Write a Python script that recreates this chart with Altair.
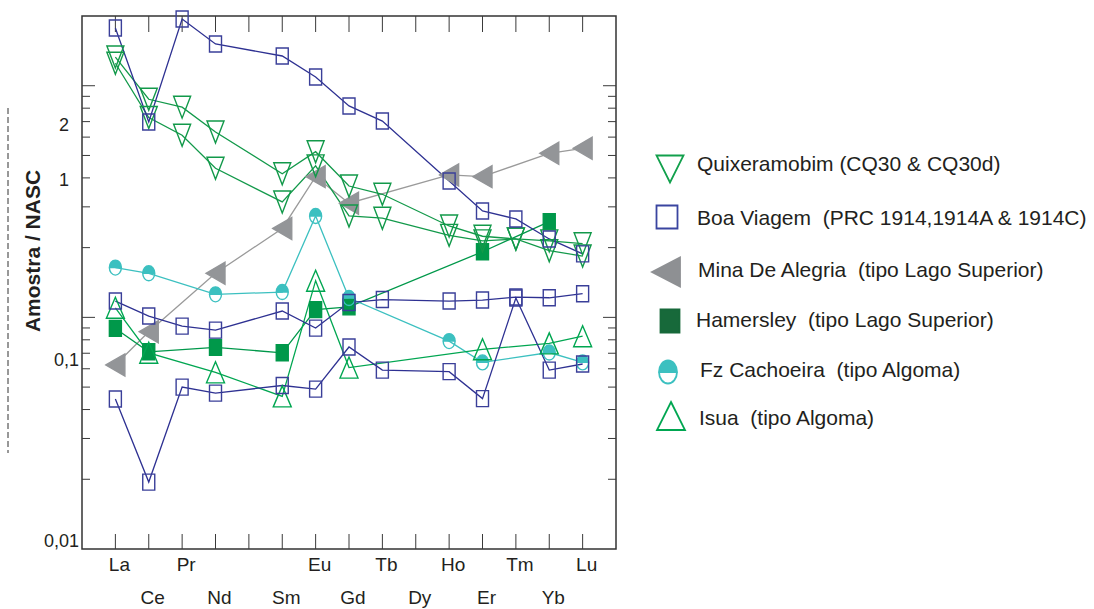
import altair as alt
import pandas as pd

# ---------------- data ----------------
ELEMENTS = ["La", "Ce", "Pr", "Nd", "Pm", "Sm", "Eu", "Gd", "Tb", "Dy", "Ho", "Er", "Tm", "Yb", "Lu"]
N = None

QUIX_CQ30 = [1.33, 0.874, 0.808, 0.631, N, 0.417, 0.519, 0.369, 0.340, N, 0.248, 0.224, 0.218, 0.214, 0.208]
QUIX_CQ30D = [1.25, 0.729, 0.611, 0.440, N, 0.315, 0.451, 0.274, 0.268, N, 0.226, 0.214, 0.218, 0.194, 0.184]

BOA_1914 = [1.775, 0.697, 1.94, 1.514, N, 1.344, 1.09, 0.818, 0.704, N, 0.388, 0.288, 0.266, 0.218, 0.188]
BOA_1914A = [0.1176, 0.1013, 0.0917, 0.0881, N, 0.1065, 0.0899, 0.1159, 0.1194, N, 0.1176, 0.1188, 0.1224, 0.1215, 0.1265]
BOA_1914C = [0.0444, 0.01945, 0.0500, 0.0471, N, 0.0508, 0.0490, 0.0745, 0.0592, N, 0.0583, 0.0446, 0.1212, 0.0592, 0.0629]

MINA = [0.0623, 0.0867, N, 0.155, N, 0.242, 0.405, 0.311, N, N, 0.412, 0.405, N, 0.511, 0.537]
HAMERSLEY = [0.0896, 0.0710, N, 0.0742, N, 0.0703, 0.108, 0.111, N, N, N, 0.192, N, 0.259, N]
FZ_CACHOEIRA = [0.164, 0.155, N, 0.1257, N, 0.1286, 0.274, 0.1212, N, N, 0.079, 0.0639, N, 0.0705, 0.0639]
ISUA = [0.110, 0.0703, N, 0.0579, N, 0.0456, 0.144, 0.0607, N, N, N, 0.0728, N, 0.0772, 0.0829]

LEGEND_LABELS = [
    "Quixeramobim (CQ30 & CQ30d)",
    "Boa Viagem\u00a0 (PRC 1914,1914A & 1914C)",
    "Mina De Alegria\u00a0 (tipo Lago Superior)",
    "Hamersley\u00a0 (tipo Lago Superior)",
    "Fz Cachoeira\u00a0 (tipo Algoma)",
    "Isua\u00a0 (tipo Algoma)",
]
SERIES_SAMPLES = [
    {"CQ30": QUIX_CQ30, "CQ30d": QUIX_CQ30D},
    {"1914": BOA_1914, "1914A": BOA_1914A, "1914C": BOA_1914C},
    {"Mina": MINA},
    {"Hamersley": HAMERSLEY},
    {"Fz": FZ_CACHOEIRA},
    {"Isua": ISUA},
]

Y_LABEL_VALUES = [2, 1, 0.1, 0.01]
Y_LABEL_TEXT = ["2", "1", "0,1", "0,01"]
Y_MAJOR = [0.1, 1]
Y_MINOR = [0.02, 0.03, 0.04, 0.05, 0.06, 0.07, 0.08, 0.09, 0.2, 0.3, 0.4, 0.5, 0.6, 0.7, 0.8, 0.9]

# ---------------- styles ----------------
FONT = "Liberation Sans"
W, H = 534, 533
HALF = "M-{r} 0 A{r} {q} 0 0 1 {r} 0 Z M{r} 0 A{r} {q} 0 0 1 -{r} 0 A{r} {q} 0 0 0 {r} 0"
STYLES = [
    dict(line="#12994a", stroke="#12994a", fill="transparent",
         shape="M-0.85 -1.1 L0.85 -1.1 L0 1.1 Z", lshape="M-1.35 -1.35 L1.35 -1.35 L0 1.35 Z",
         lstroke="#12a04c", lfill="transparent"),
    dict(line="#2e3192", stroke="#3a3f99", fill="transparent",
         shape="M-0.6 -0.8 H0.6 V0.8 H-0.6 Z", lshape="M-1.05 -1.15 H1.05 V1.15 H-1.05 Z",
         lstroke="#3a45a0", lfill="transparent"),
    dict(line="#9a9a9a", stroke="#939598", fill="#939598",
         shape="M-0.95 0 L0.95 -1.1 L0.95 1.1 Z", lshape="M-1.4 0 L1.4 -1.45 L1.4 1.45 Z",
         lstroke="#8e9093", lfill="#8e9093"),
    dict(line="#00984a", stroke="#00984a", fill="#00984a",
         shape="M-0.6 -0.8 H0.6 V0.8 H-0.6 Z", lshape="M-0.95 -1.15 H0.95 V1.15 H-0.95 Z",
         lstroke="#17693a", lfill="#17693a"),
    dict(line="#3cc0c0", stroke="#3cc0c0", fill="#3cc0c0",
         shape=HALF.format(r=0.6, q=0.75), lshape=HALF.format(r=0.9, q=1.15),
         lstroke="#3cc0c0", lfill="#3cc0c0"),
    dict(line="#00a651", stroke="#00a651", fill="transparent",
         shape="M0 -1.05 L0.9 1.05 L-0.9 1.05 Z", lshape="M0 -1.4 L1.4 1.4 L-1.4 1.4 Z",
         lstroke="#00a651", lfill="transparent"),
]
LEGEND_SYM_X = [670, 667, 666, 670, 668, 671]
LEGEND_SYM_Y = [169, 217, 272, 321, 372, 416]
LEGEND_TXT_X = [697, 697, 698, 696, 700, 699]
LEGEND_TXT_Y = [165, 219, 271, 321, 371, 419]

# ---------------- scales ----------------
xs = alt.Scale(domain=[-1, 15], nice=False, zero=False)
ys = alt.Scale(type="log", domain=[0.01, 2], nice=False)

layers = []

# frame ticks (inward)
elem_df = pd.DataFrame({"idx": list(range(len(ELEMENTS))), "el": ELEMENTS,
                        "row": [i % 2 for i in range(len(ELEMENTS))]})
elem_df.loc[elem_df["el"] == "Pm", "el"] = ""
maj_df = pd.DataFrame({"t": Y_MAJOR})
min_df = pd.DataFrame({"t": Y_MINOR})
TICK = "#3a3a3a"
for xa, xb, d in [(0, 13, maj_df), (0, 8, min_df), (W, W - 13, maj_df), (W, W - 8, min_df)]:
    layers.append(alt.Chart(d).mark_rule(color=TICK, strokeWidth=1).encode(
        y=alt.Y("t:Q", scale=ys, axis=None), x=alt.value(xa), x2=alt.value(xb)))
for ya, yb in [(0, 16), (H, H - 15)]:
    layers.append(alt.Chart(elem_df).mark_rule(color=TICK, strokeWidth=1).encode(
        x=alt.X("idx:Q", scale=xs, axis=None), y=alt.value(ya), y2=alt.value(yb)))

# data table
rows = []
for k, samples in enumerate(SERIES_SAMPLES):
    for name, vals in samples.items():
        for i, v in enumerate(vals):
            if v is not None:
                rows.append({"series": k, "sample": name, "idx": i, "value": v})
df = pd.DataFrame(rows)

xenc = alt.X("idx:Q", scale=xs, axis=None)
yenc = alt.Y("value:Q", scale=ys, axis=None)

draw_order = [2, 3, 4, 5, 0, 1]
for k in draw_order:
    st = STYLES[k]
    layers.append(alt.Chart(df[df["series"] == k]).mark_line(color=st["line"], strokeWidth=1.3).encode(
        x=xenc, y=yenc, detail="sample:N", order="idx:Q"))
for k in draw_order:
    st = STYLES[k]
    layers.append(alt.Chart(df[df["series"] == k]).mark_point(
        shape=st["shape"], size=400, filled=True, fill=st["fill"], stroke=st["stroke"],
        strokeWidth=1.4, opacity=1).encode(x=xenc, y=yenc))

# x labels (two staggered rows)
for r, ypix in [(0, 565), (1, 598)]:
    layers.append(alt.Chart(elem_df[elem_df["row"] == r]).mark_text(
        font=FONT, fontSize=19, color="#231f20", align="center", baseline="middle", dx=4).encode(
        x=alt.X("idx:Q", scale=xs, axis=None), y=alt.value(ypix - 16), text="el:N"))

# y title and dashed line at far left
one = pd.DataFrame({"a": [0]})
layers.append(alt.Chart(one).mark_text(text="Amostra / NASC", font=FONT, fontSize=21, fontWeight="bold",
                                       angle=270, align="center", baseline="middle", color="#231f20").encode(
    x=alt.value(34 - 82), y=alt.value(251 - 16)))
layers.append(alt.Chart(one).mark_rule(color="#333333", strokeWidth=1, strokeDash=[6, 3]).encode(
    x=alt.value(8 - 82), y=alt.value(108 - 16), y2=alt.value(453 - 16)))

# legend
for k in range(6):
    st = STYLES[k]
    layers.append(alt.Chart(one).mark_point(shape=st["lshape"], size=400, filled=True, fill=st["lfill"],
                                            stroke=st["lstroke"], strokeWidth=1.8, opacity=1).encode(
        x=alt.value(LEGEND_SYM_X[k] - 82), y=alt.value(LEGEND_SYM_Y[k] - 16)))
    layers.append(alt.Chart(one).mark_text(text=LEGEND_LABELS[k], font=FONT, fontSize=21, align="left",
                                           baseline="middle", color="#231f20").encode(
        x=alt.value(LEGEND_TXT_X[k] - 82), y=alt.value(LEGEND_TXT_Y[k] - 16)))

main = alt.layer(*layers)

# y labels (placed on their own log scale, as printed in the reference)
lab_df = pd.DataFrame({"lv": Y_LABEL_VALUES, "txt": Y_LABEL_TEXT})
ls = alt.Scale(type="log", domain=[0.00912, 8.19], nice=False)
lab_big = alt.Chart(lab_df).transform_filter("datum.lv >= 1").mark_text(
    font=FONT, fontSize=18, align="right", baseline="middle", color="#231f20").encode(
    y=alt.Y("lv:Q", scale=ls, axis=None), x=alt.value(-13), text="txt:N")
lab_small = alt.Chart(lab_df).transform_filter("datum.lv < 1").mark_text(
    font=FONT, fontSize=18, align="right", baseline="middle", color="#231f20").encode(
    y=alt.Y("lv:Q", scale=ls, axis=None), x=alt.value(-3), text="txt:N")
ylabels = alt.layer(lab_big, lab_small)

chart = alt.layer(main, ylabels).resolve_scale(y="independent").properties(
    width=W, height=H,
    padding={"left": 82, "top": 16, "right": 1094 - 82 - W, "bottom": 609 - 16 - H},
    autosize=alt.AutoSizeParams(type="none"),
    background="white",
).configure_view(stroke="#333333", strokeWidth=1.5)

chart.save("out.html", embed_options={"renderer": "svg", "actions": False})
